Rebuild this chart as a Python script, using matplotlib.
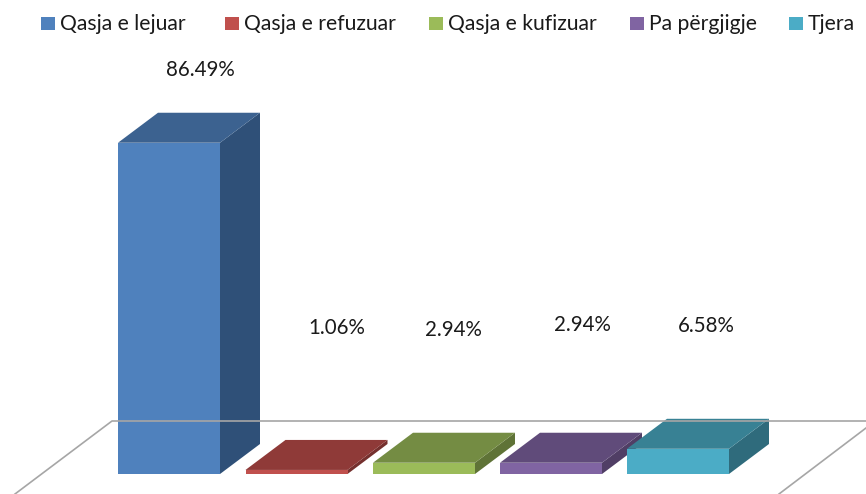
import matplotlib
matplotlib.use('Agg')
import matplotlib.pyplot as plt
from matplotlib.patches import Polygon, Rectangle

plt.rcParams['font.family'] = ['Lato', 'DejaVu Sans']

categories = ['Qasja e lejuar', 'Qasja e refuzuar', 'Qasja e kufizuar', 'Pa përgjigje', 'Tjera']
values = [86.49, 1.06, 2.94, 2.94, 6.58]
value_labels = ['86.49%', '1.06%', '2.94%', '2.94%', '6.58%']

front_colors = ['#4F81BD', '#C0504D', '#9BBB59', '#8064A2', '#4BACC6']
top_colors = ['#3C6290', '#8F3A38', '#748C43', '#604B7A', '#388194']
side_colors = ['#2F5078', '#75302E', '#5F7337', '#503E65', '#2F6B7C']

# pixel layout of the picture
bar_left = [118, 245.5, 373, 500, 627]
bar_w = 102
base_y = 474
depth_x = 40
depth_y = 30
px_per_unit = 3.83

label_x = [200, 337, 453, 582, 706]
label_y = [70, 328, 330, 325, 326]
legend_box_x = [41, 225, 429, 630, 789]
legend_text_x = [60, 244, 448, 649, 808]

fig = plt.figure(figsize=(8.66, 4.94), dpi=100)
ax = fig.add_axes([0, 0, 1, 1])
ax.set_xlim(0, 866)
ax.set_ylim(494, 0)
ax.axis('off')

# floor outline
ax.plot([15, 112, 866], [494, 421, 421], color='#A6A6A6', lw=1.2)
ax.plot([779, 866], [494, 428], color='#A6A6A6', lw=1.2)

for i in range(len(values)):
    x = bar_left[i]
    top = base_y - values[i] * px_per_unit
    ax.add_patch(Polygon([(x + bar_w, base_y), (x + bar_w + depth_x, base_y - depth_y),
                          (x + bar_w + depth_x, top - depth_y), (x + bar_w, top)],
                         color=side_colors[i], lw=0))
    ax.add_patch(Polygon([(x, top), (x + depth_x, top - depth_y),
                          (x + bar_w + depth_x, top - depth_y), (x + bar_w, top)],
                         color=top_colors[i], lw=0))
    ax.add_patch(Rectangle((x, top), bar_w, base_y - top, color=front_colors[i], lw=0))
    ax.text(label_x[i], label_y[i], value_labels[i], ha='center', va='center',
            fontsize=14.8, color='#1A1A1A')
    # legend
    ax.add_patch(Rectangle((legend_box_x[i], 17), 13.5, 13.5, color=front_colors[i], lw=0))
    ax.text(legend_text_x[i], 24, categories[i], ha='left', va='center',
            fontsize=15.2, color='#1A1A1A')

fig.savefig('out.png', dpi=100)
